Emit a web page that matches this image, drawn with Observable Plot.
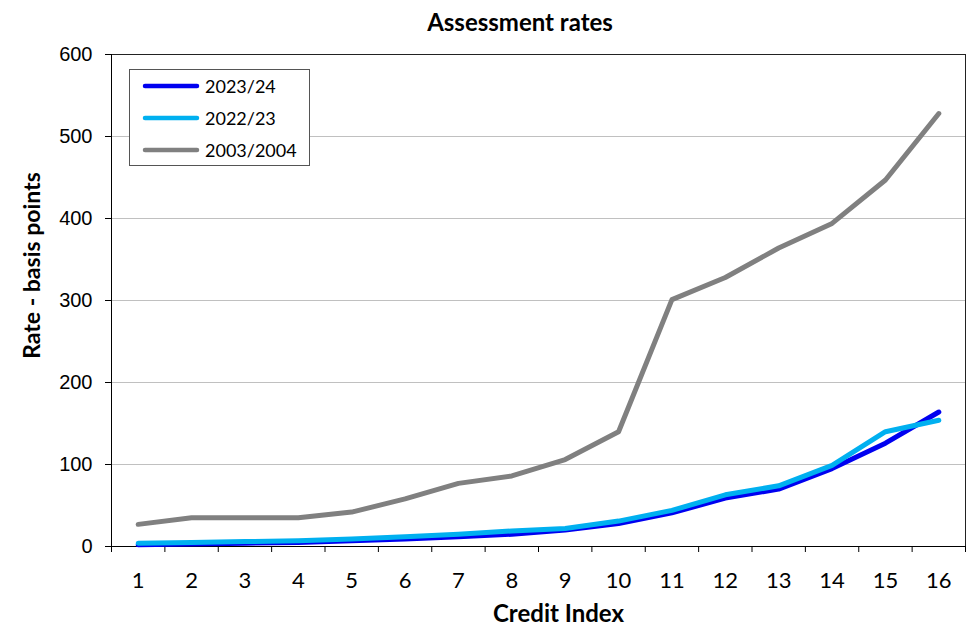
<!DOCTYPE html>
<html>
<head>
<meta charset="utf-8">
<script src="https://cdn.jsdelivr.net/npm/d3@7"></script>
<script src="https://cdn.jsdelivr.net/npm/@observablehq/plot@0.6"></script>
<style>
  html, body { margin: 0; padding: 0; background: #fff; }
  #wrap { position: relative; width: 971px; height: 627px; }
  #title { height: 40px; line-height: 44px; text-align: center; font-family: Lato, "Open Sans", sans-serif; font-weight: bold; font-size: 24px; color: #000; padding-left: 69px; box-sizing: border-box; }
  #legend { position: absolute; left: 129px; top: 69px; width: 181px; height: 97px; border: 1px solid #555; background: #fff; box-sizing: border-box; font-family: Lato, "Open Sans", sans-serif; font-size: 18px; }
  .row { position: absolute; left: 12px; height: 20px; display: flex; align-items: center; }
  .row svg { margin-right: 5px; }
</style>
</head>
<body>
<div id="wrap">
  <div id="title">Assessment rates</div>
  <div id="chart"></div>
  <div id="legend"></div>
</div>
<script>
const creditIndex = [1, 2, 3, 4, 5, 6, 7, 8, 9, 10, 11, 12, 13, 14, 15, 16];
const rates2023 = [2, 3, 4, 5, 7, 9, 12, 15, 20, 28, 41, 59, 70, 95, 126, 164];
const rates2022 = [4, 5, 6, 7, 9, 12, 15, 19, 22, 31, 44, 63, 74, 99, 140, 154];
const rates2003 = [27, 35, 35, 35, 42, 58, 77, 86, 106, 140, 301, 328, 364, 394, 447, 528];
const seriesNames = ["2023/24", "2022/23", "2003/2004"];
const seriesColors = ["#0000f0", "#00b0f0", "#808080"];
const yTicks = [0, 100, 200, 300, 400, 500, 600];

const seriesValues = [rates2023, rates2022, rates2003];
const rows = [];
seriesNames.forEach((name, i) => {
  creditIndex.forEach((c, j) => rows.push({series: name, x: c, y: seriesValues[i][j]}));
});
const boundaries = [creditIndex[0] - 0.5, ...creditIndex.map(c => c + 0.5)];

const chart = Plot.plot({
  width: 971,
  height: 587,
  marginTop: 14,
  marginBottom: 81,
  marginLeft: 111,
  marginRight: 6,
  style: {fontFamily: "Liberation Sans, Arial, sans-serif", fontSize: "18px", color: "#000", background: "#fff"},
  x: {type: "linear", domain: [boundaries[0], boundaries[boundaries.length - 1]]},
  y: {domain: [0, 600]},
  color: {domain: seriesNames, range: seriesColors},
  marks: [
    Plot.gridY(yTicks.slice(1, -1), {stroke: "#c0c0c0", strokeOpacity: 1}),
    Plot.frame({stroke: "#222"}),
    Plot.axisY(yTicks, {tickSize: 6, tickPadding: 13, label: null, stroke: "#000", fontSize: 20, fontFamily: "Liberation Sans, Arial, sans-serif"}),
    Plot.axisX(boundaries, {tickSize: 6, tickFormat: () => "", label: null, stroke: "#000"}),
    Plot.axisX(creditIndex, {tickSize: 0, tickPadding: 26, label: null, fontSize: 22, fontFamily: "Lato, 'Open Sans', sans-serif"}),
    Plot.ruleY([0], {stroke: "#000"}),
    Plot.ruleX([boundaries[0]], {stroke: "#000"}),
    Plot.line(rows, {x: "x", y: "y", z: "series", stroke: "series", strokeWidth: 5, strokeLinecap: "round", strokeLinejoin: "round"}),
    Plot.text(["Rate - basis points"], {frameAnchor: "left", textAnchor: "middle", dx: -79, dy: -35, rotate: -90, fontWeight: "bold", fontSize: 23, fontFamily: "Lato, 'Open Sans', sans-serif"}),
    Plot.text(["Credit Index"], {frameAnchor: "bottom", dx: 20, dy: 75, fontWeight: "bold", fontSize: 24, fontFamily: "Lato, 'Open Sans', sans-serif"})
  ]
});
document.getElementById("chart").appendChild(chart);

const legend = document.getElementById("legend");
seriesNames.forEach((name, i) => {
  const row = document.createElement("div");
  row.className = "row";
  row.style.top = (6 + i * 32) + "px";
  row.innerHTML = `<svg width="58" height="8"><line x1="3" y1="4" x2="55" y2="4" stroke="${seriesColors[i]}" stroke-width="4.5" stroke-linecap="round"/></svg><span>${name}</span>`;
  legend.appendChild(row);
});
</script>
</body>
</html>
